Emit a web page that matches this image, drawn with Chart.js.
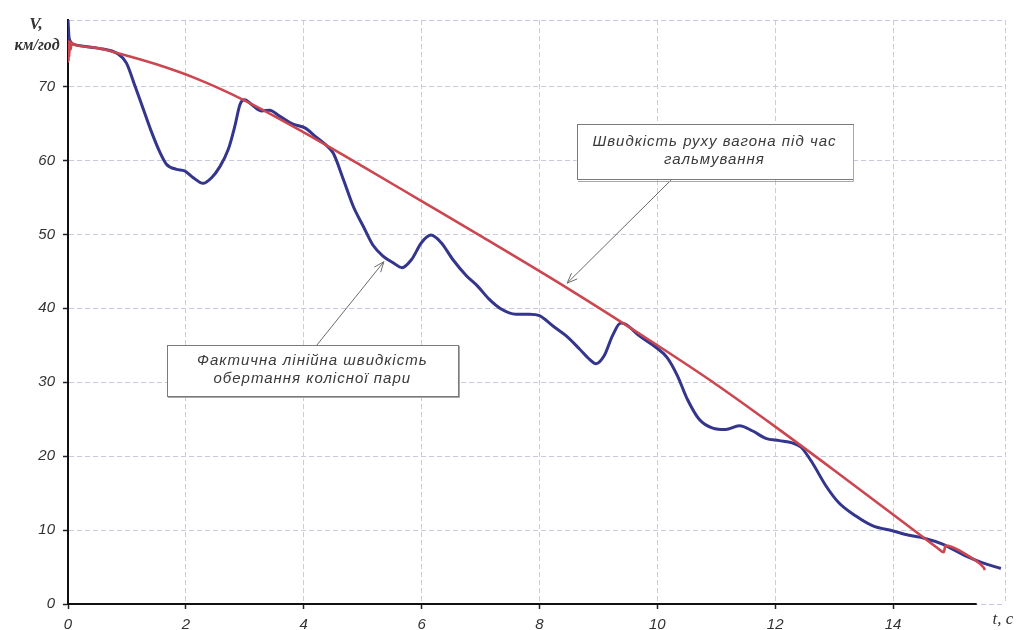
<!DOCTYPE html>
<html>
<head>
<meta charset="utf-8">
<script src="https://cdn.jsdelivr.net/npm/chart.js@4.4.1/dist/chart.umd.min.js"></script>
<style>
  html, body { margin: 0; padding: 0; background: #fff; }
  #wrap { width: 1017px; height: 630px; position: relative; }
</style>
</head>
<body>
<div id="wrap"><canvas id="c" width="1017" height="630"></canvas></div>
<script>
// Wagon speed during braking, t (s) -> V (km/h)
const tRed = [0, 0.005, 0.01, 0.015, 0.02, 0.03, 0.045, 0.06, 0.1, 0.5, 0.85, 1.5, 2.2, 3.0, 4.0, 5.0, 6.0, 7.0, 8.5, 10.0, 11.0, 12.0, 13.0, 14.0, 14.5, 14.75, 14.86, 14.89, 15.3, 15.53, 15.56];
const vRed = [74.5, 76.2, 73.4, 76.0, 74.0, 76.1, 75.0, 75.9, 75.7, 75.2, 74.5, 73.0, 71.0, 68.1, 63.8, 59.2, 54.5, 49.8, 42.6, 35.0, 29.7, 24.0, 18.1, 12.1, 9.1, 7.6, 7.0, 7.9, 6.4, 5.0, 4.6];

// Actual linear speed of the wheel pair rotation
const tBlue = [0, 0.02, 0.1, 0.5, 0.85, 0.99, 1.14, 1.28, 1.42, 1.56, 1.67, 1.84, 1.98, 2.12, 2.29, 2.44, 2.58, 2.72, 2.83, 2.92, 3.0, 3.11, 3.28, 3.42, 3.59, 3.82, 4.02, 4.19, 4.36, 4.5, 4.67, 4.84, 5.01, 5.17, 5.34, 5.51, 5.67, 5.83, 6.0, 6.16, 6.33, 6.53, 6.76, 6.95, 7.15, 7.35, 7.6, 7.83, 8.0, 8.23, 8.45, 8.68, 8.85, 8.96, 9.1, 9.24, 9.38, 9.47, 9.69, 9.98, 10.17, 10.34, 10.51, 10.71, 10.94, 11.16, 11.39, 11.62, 11.84, 12.07, 12.29, 12.44, 12.63, 12.86, 13.08, 13.37, 13.65, 13.99, 14.27, 14.53, 14.84, 15.23, 15.51, 15.83];
const vBlue = [79.0, 76.5, 75.7, 75.2, 74.4, 73.2, 70.0, 66.9, 63.8, 61.1, 59.5, 58.8, 58.6, 57.7, 56.9, 57.7, 59.2, 61.5, 64.6, 67.6, 68.2, 67.6, 66.7, 66.8, 66.0, 64.9, 64.4, 63.3, 62.2, 61.0, 57.5, 53.8, 51.1, 48.6, 47.1, 46.2, 45.5, 46.6, 48.9, 49.9, 48.9, 46.6, 44.4, 43.0, 41.2, 39.9, 39.2, 39.2, 39.0, 37.6, 36.3, 34.5, 33.1, 32.5, 33.6, 36.3, 38.0, 37.8, 36.3, 34.7, 33.3, 30.9, 27.7, 25.0, 23.8, 23.6, 24.1, 23.4, 22.4, 22.1, 21.8, 21.2, 19.1, 16.0, 13.7, 11.9, 10.6, 9.9, 9.3, 8.9, 8.1, 6.5, 5.6, 4.8];

const xTicks = [0, 2, 4, 6, 8, 10, 12, 14];
const yTicks = [0, 10, 20, 30, 40, 50, 60, 70];
const xMax = 15.9;
const yMax = 79;

const yTitle = ['V,', 'км/год'];
const xTitle = 't, c';
const noteRed = ['Швидкість руху вагона під час', 'гальмування'];
const noteBlue = ['Фактична лінійна швидкість', 'обертання колісної пари'];

const BLUE = '#34358c';
const RED = '#cc4650';
const GRID = '#c6cbe0';
const TEXT = '#3a3a3a';

// Callout boxes with arrows, placed in data units
const callouts = [
  { lines: noteRed, box: [8.63, 64.9, 13.31, 57.4], from: [10.24, 57.4], to: [8.47, 43.4] },
  { lines: noteBlue, box: [1.68, 35.0, 6.61, 28.1], from: [4.22, 35.0], to: [5.36, 46.3] }
];

function pts(ts, vs) { return ts.map((t, i) => ({ x: t, y: vs[i] })); }

const decorations = {
  id: 'decorations',
  afterDraw(chart) {
    const { ctx, scales: { x, y } } = chart;
    ctx.save();

    // x axis line
    ctx.strokeStyle = '#111';
    ctx.lineWidth = 2;
    ctx.beginPath();
    ctx.moveTo(x.getPixelForValue(0), y.getPixelForValue(0));
    ctx.lineTo(x.getPixelForValue(15.42), y.getPixelForValue(0));
    ctx.stroke();

    // axis titles
    ctx.fillStyle = '#333';
    ctx.textAlign = 'center';
    ctx.textBaseline = 'middle';
    ctx.font = 'italic bold 17px "Liberation Serif"';
    ctx.fillText(yTitle[0], 36, 25);
    ctx.font = 'italic bold 16px "Liberation Serif"';
    ctx.fillText(yTitle[1], 37, 46);
    ctx.font = 'italic 17px "Liberation Serif"';
    ctx.fillText(xTitle, 1003, 620);

    // callouts
    for (const c of callouts) {
      const x1 = x.getPixelForValue(c.box[0]), y1 = y.getPixelForValue(c.box[1]);
      const x2 = x.getPixelForValue(c.box[2]), y2 = y.getPixelForValue(c.box[3]);
      const fx = x.getPixelForValue(c.from[0]), fy = y.getPixelForValue(c.from[1]);
      const tx = x.getPixelForValue(c.to[0]), ty = y.getPixelForValue(c.to[1]);

      ctx.strokeStyle = '#6a6a6a';
      ctx.lineWidth = 1;
      ctx.beginPath();
      ctx.moveTo(fx, fy);
      ctx.lineTo(tx, ty);
      ctx.stroke();
      const ang = Math.atan2(ty - fy, tx - fx);
      const len = 11;
      ctx.beginPath();
      ctx.moveTo(tx - len * Math.cos(ang - 0.38), ty - len * Math.sin(ang - 0.38));
      ctx.lineTo(tx, ty);
      ctx.lineTo(tx - len * Math.cos(ang + 0.38), ty - len * Math.sin(ang + 0.38));
      ctx.stroke();

      ctx.fillStyle = '#fff';
      ctx.fillRect(x1, y1, x2 - x1, y2 - y1);
      ctx.strokeStyle = '#7a7a7a';
      ctx.lineWidth = 1;
      ctx.strokeRect(Math.round(x1) + 0.5, Math.round(y1) + 0.5, Math.round(x2 - x1), Math.round(y2 - y1));
      ctx.strokeStyle = '#a8a8a8';
      ctx.beginPath();
      ctx.moveTo(Math.round(x1) + 1, Math.round(y2) + 1.5);
      ctx.lineTo(Math.round(x2) + 1.5, Math.round(y2) + 1.5);
      ctx.lineTo(Math.round(x2) + 1.5, Math.round(y1) + 1);
      ctx.stroke();

      ctx.fillStyle = TEXT;
      ctx.font = 'italic 15px "Liberation Sans"';
      ctx.letterSpacing = '1px';
      const cx = (x1 + x2) / 2, cy = (y1 + y2) / 2;
      ctx.fillText(c.lines[0], cx, cy - 10);
      ctx.fillText(c.lines[1], cx, cy + 8);
      ctx.letterSpacing = '0px';
    }
    ctx.restore();
  }
};

const tickFont = { family: 'Liberation Sans', style: 'italic', size: 15 };

new Chart(document.getElementById('c'), {
  type: 'scatter',
  data: {
    datasets: [
      {
        data: pts(tBlue, vBlue),
        showLine: true,
        borderColor: BLUE,
        borderWidth: 3,
        pointRadius: 0,
        cubicInterpolationMode: 'monotone',
        order: 2
      },
      {
        data: pts(tRed, vRed),
        showLine: true,
        borderColor: RED,
        borderWidth: 2.6,
        pointRadius: 0,
        cubicInterpolationMode: 'monotone',
        order: 1
      }
    ]
  },
  options: {
    responsive: false,
    animation: false,
    layout: { padding: { top: 20, right: 12, left: 0, bottom: 0 } },
    plugins: { legend: { display: false }, tooltip: { enabled: false } },
    scales: {
      x: {
        type: 'linear',
        min: 0,
        max: xMax,
        afterBuildTicks: s => { s.ticks = [...xTicks, xMax].map(v => ({ value: v })); },
        afterFit: s => { s.height = 26; },
        grid: {
          color: GRID,
          lineWidth: 1,
          tickLength: 5,
          tickWidth: 1.5,
          tickColor: c => (c.tick && c.tick.value === xMax ? 'rgba(0,0,0,0)' : '#222')
        },
        border: { display: false, dash: [5, 3] },
        ticks: {
          font: tickFont,
          color: '#333',
          padding: 7,
          maxRotation: 0,
          callback: v => (v === xMax ? '' : String(v))
        }
      },
      y: {
        type: 'linear',
        min: 0,
        max: yMax,
        afterBuildTicks: s => { s.ticks = [...yTicks, yMax].map(v => ({ value: v })); },
        afterFit: s => { s.width = 68; },
        grid: {
          color: GRID,
          lineWidth: 1,
          tickLength: 5,
          tickWidth: 1.5,
          tickColor: c => (c.tick && c.tick.value === yMax ? 'rgba(0,0,0,0)' : '#222')
        },
        border: { display: true, color: '#111', width: 2, dash: [5, 3] },
        ticks: {
          font: tickFont,
          color: '#333',
          padding: 8,
          callback: v => (v === yMax ? '' : String(v))
        }
      }
    }
  },
  plugins: [decorations]
});
</script>
</body>
</html>
